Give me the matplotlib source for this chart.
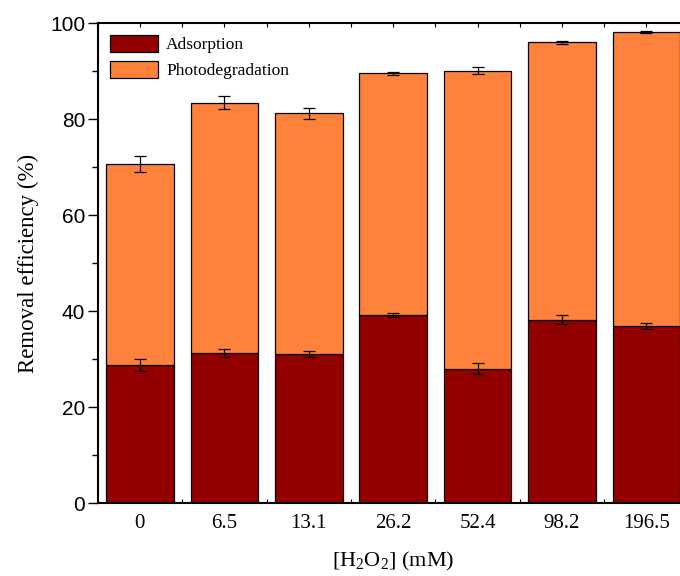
import numpy as np
import matplotlib.pyplot as plt
from matplotlib.ticker import MultipleLocator

plt.rcParams['mathtext.fontset'] = 'custom'
plt.rcParams['mathtext.rm'] = 'Liberation Serif'
plt.rcParams['mathtext.it'] = 'Liberation Serif:italic'

# data
conc = ['0', '6.5', '13.1', '26.2', '52.4', '98.2', '196.5']
adsorption = [28.8, 31.3, 31.0, 39.2, 28.0, 38.2, 36.9]
adsorption_err = [1.2, 0.8, 0.6, 0.4, 1.1, 0.9, 0.7]
total = [70.6, 83.4, 81.2, 89.5, 90.1, 96.0, 98.2]
total_err = [1.7, 1.3, 1.2, 0.4, 0.7, 0.3, 0.2]
photo = [t - a for t, a in zip(total, adsorption)]

c_ads = '#920000'
c_pho = '#ff823c'

fig = plt.figure(figsize=(6.8, 5.76), dpi=100)
ax = fig.add_axes([0.1437, 0.1267, 0.869, 0.8333])

x = np.arange(len(conc))
w = 0.8
ax.bar(x, adsorption, w, color=c_ads, edgecolor='black', linewidth=0.9,
       label='Adsorption', zorder=2)
ax.bar(x, photo, w, bottom=adsorption, color=c_pho, edgecolor='black',
       linewidth=0.9, label='Photodegradation', zorder=2)
ax.errorbar(x, adsorption, yerr=adsorption_err, fmt='none', ecolor='black',
            elinewidth=0.9, capsize=4.3, capthick=0.9, zorder=3)
ax.errorbar(x, total, yerr=total_err, fmt='none', ecolor='black',
            elinewidth=0.9, capsize=4.3, capthick=0.9, zorder=3)

ax.set_xlim(-0.5, 6.5)
ax.set_ylim(0, 100)
ax.set_xticks(x)
ax.set_xticklabels(conc, fontfamily='Liberation Serif', fontsize=15)
ax.xaxis.set_minor_locator(MultipleLocator(1, offset=0.5))
ax.yaxis.set_major_locator(MultipleLocator(20))
ax.yaxis.set_minor_locator(MultipleLocator(10))
for lab in ax.get_yticklabels():
    lab.set_fontfamily('Liberation Sans')
    lab.set_fontsize(15)

ax.tick_params(axis='x', which='both', direction='in', top=True, bottom=True,
               length=3, width=0.8, pad=8)
ax.tick_params(axis='y', which='major', direction='out', length=7, width=1, right=False, pad=2)
ax.tick_params(axis='y', which='minor', direction='out', length=4, width=1, right=False)
for s in ax.spines.values():
    s.set_linewidth(1.5)

ax.set_ylabel('Removal efficiency (%)', fontfamily='Liberation Serif', fontsize=16.5, labelpad=8)
ax.set_xlabel(r'[H$_2$O$_2$] (mM)', fontfamily='Liberation Serif', fontsize=16, labelpad=12)

ax.legend(loc='upper left', frameon=False, prop={'family': 'Liberation Serif', 'size': 12.5},
          handlelength=2.8, handleheight=1.1, handletextpad=0.45, labelspacing=0.45,
          borderaxespad=0.3, bbox_to_anchor=(0.0, 1.0))

fig.savefig('out.png', dpi=100)
